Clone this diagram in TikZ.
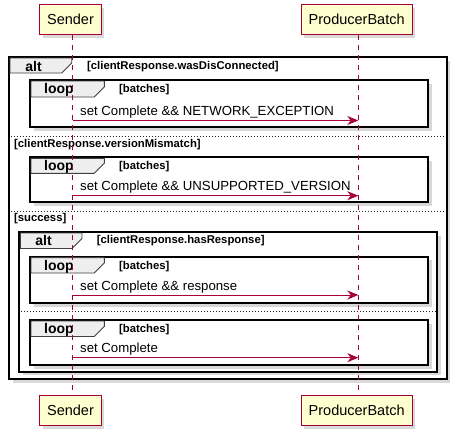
\documentclass[tikz,border=0pt]{standalone}
\usepackage{fontspec}
\setmainfont{Liberation Sans}
\usepackage{tikz}
\usetikzlibrary{arrows,arrows.meta,calc,positioning,shadows}

\definecolor{plumred}{HTML}{A80036}
\definecolor{actorfill}{HTML}{FEFECE}
\definecolor{tabgray}{HTML}{EEEEEE}

\tikzset{
  actor/.style={draw=plumred, fill=actorfill, line width=1.3pt, inner xsep=7.5pt,
    minimum height=30pt, font=\fontsize{14.5}{17}\selectfont,
    drop shadow={shadow xshift=3pt, shadow yshift=-3pt, opacity=0.3}},
  lifeline/.style={plumred, line width=1pt, dash pattern=on 5pt off 5pt},
  msg/.style={plumred, line width=1pt, -{Stealth[length=11pt,width=9pt,inset=3.5pt]}},
  msgtext/.style={anchor=base west, inner sep=0pt, font=\fontsize{13.2}{15}\selectfont},
  grp/.style={draw=black, fill=white, line width=1.9pt,
    drop shadow={shadow xshift=3.5pt, shadow yshift=-3.5pt, opacity=0.3}},
  tab/.style={draw=black!75, fill=tabgray, line width=0.9pt},
  tablabel/.style={anchor=base, inner sep=0pt, font=\bfseries\fontsize{14}{16}\selectfont},
  guard/.style={anchor=base west, inner sep=0pt, font=\bfseries\fontsize{11.3}{13}\selectfont},
  split/.style={black!85, line width=1pt, dash pattern=on 1pt off 2pt}
}

\begin{document}
\begin{tikzpicture}[x=1pt,y=-1pt]
		\useasboundingbox (0,0) rectangle (461,439);
		% outer alt
		\draw[grp] (9.3,57) rectangle (446.7,379);
		\filldraw[tab] (10,58) -- (71.7,58) -- (71.7,63) -- (61.7,73) -- (10,73) -- cycle;
		\node[tablabel] (alt1) at (33.5,71) {alt};
		\node[guard] (cond1) at (87,69) {[clientResponse.wasDisConnected]};
		% loop 1
		\draw[grp] (30,80) rectangle (428,127);
		\filldraw[tab] (31,81) -- (104.3,81) -- (104.3,87) -- (94.3,97) -- (31,97) -- cycle;
		\node[tablabel] (loop1) at (59,93.5) {loop};
		\node[guard] (batch1) at (119,92.5) {[batches]};
		\draw[split] (10.5,136) -- (445.5,136);
		\node[guard] (cond2) at (14,147) {[clientResponse.versionMismatch]};
		% loop 2
		\draw[grp] (30,157.3) rectangle (428,202);
		\filldraw[tab] (31,158.3) -- (104.3,158.3) -- (104.3,163.3) -- (94.3,173.3) -- (31,173.3) -- cycle;
		\node[tablabel] (loop2) at (59,170.8) {loop};
		\node[guard] (batch2) at (119,169.8) {[batches]};
		\draw[split] (10.5,211) -- (445.5,211);
		\node[guard] (cond3) at (14,221.5) {[success]};
		% inner alt
		\draw[grp] (19.3,232) rectangle (437.3,371.7);
		\filldraw[tab] (20.3,233) -- (82,233) -- (82,238.5) -- (72,248.5) -- (20.3,248.5) -- cycle;
		\node[tablabel] (alt2) at (43.5,245.5) {alt};
		\node[guard] (cond4) at (96.7,243.5) {[clientResponse.hasResponse]};
		% loop 3
		\draw[grp] (30,256.7) rectangle (428,303);
		\filldraw[tab] (31,257.7) -- (104.3,257.7) -- (104.3,263) -- (94.3,273) -- (31,273) -- cycle;
		\node[tablabel] (loop3) at (59,270.2) {loop};
		\node[guard] (batch3) at (119,269.2) {[batches]};
		\draw[split] (20.5,311) -- (436.1,311);
		% loop 4
		\draw[grp] (30,320) rectangle (428,365);
		\filldraw[tab] (31,321) -- (104.3,321) -- (104.3,326.5) -- (94.3,336.5) -- (31,336.5) -- cycle;
		\node[tablabel] (loop4) at (59,333.5) {loop};
		\node[guard] (batch4) at (119,332.5) {[batches]};
		% participants
		\node[actor] (sendTop) at (70.5,19.8) {Sender};
		\node[actor] (prodTop) at (356.7,19.8) {ProducerBatch};
		\node[actor] (sendBot) at (70.5,410.8) {Sender};
		\node[actor] (prodBot) at (356.7,410.8) {ProducerBatch};
		\draw[lifeline] ([xshift=2.2pt]sendTop.south) -- ([xshift=2.2pt]sendBot.north);
		\draw[lifeline] ([xshift=1.6pt]prodTop.south) -- ([xshift=1.6pt]prodBot.north);
		% messages
		\coordinate (m1s) at (72.7,120.5);
		\coordinate (m1p) at (358.3,120.5);
		\draw[msg] (m1s) -- (m1p);
		\node[msgtext] (txt1) at (80,115.5) {set Complete \&\& NETWORK\_EXCEPTION};
		\coordinate (m2s) at (72.7,195.7);
		\coordinate (m2p) at (358.3,195.7);
		\draw[msg] (m2s) -- (m2p);
		\node[msgtext] (txt2) at (80,190.7) {set Complete \&\& UNSUPPORTED\_VERSION};
		\coordinate (m3s) at (72.7,295);
		\coordinate (m3p) at (358.3,295);
		\draw[msg] (m3s) -- (m3p);
		\node[msgtext] (txt3) at (80,290) {set Complete \&\& response};
		\coordinate (m4s) at (72.7,357.7);
		\coordinate (m4p) at (358.3,357.7);
		\draw[msg] (m4s) -- (m4p);
		\node[msgtext] (txt4) at (80,352.7) {set Complete};
\end{tikzpicture}
\end{document}
